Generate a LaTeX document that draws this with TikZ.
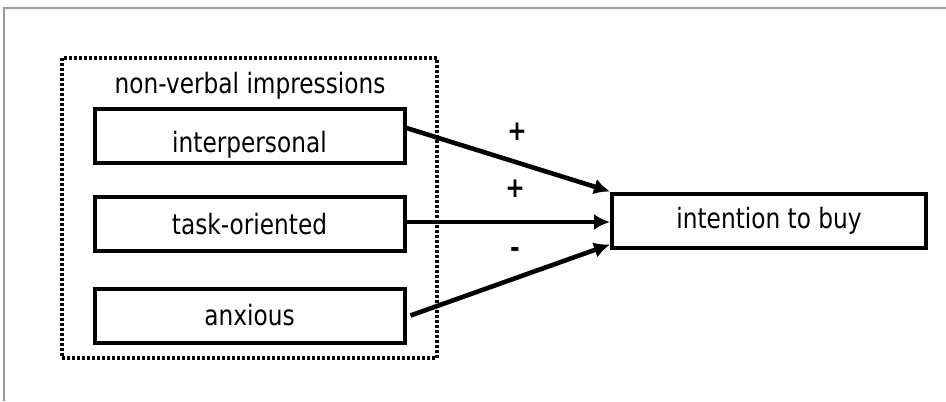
\documentclass[tikz,border=0pt]{standalone}
\usepackage{fontspec}
\setmainfont{DejaVu Sans}[FakeStretch=0.83]
\usetikzlibrary{arrows.meta}

\begin{document}
\begin{tikzpicture}[
  x=0.5pt, y=-0.5pt,
  >=Latex,
  font=\fontsize{14}{16}\selectfont,
  box/.style={draw, line width=2pt, minimum width=155pt, minimum height=27pt, inner sep=0pt},
  link/.style={line width=2.3pt, -{Latex[length=8pt, width=8pt]}},
  sign/.style={font=\fontsize{14}{16}\selectfont\bfseries}
]
\useasboundingbox (0,0) rectangle (946,401);

% page frame (top and left only)
\draw[gray!80, line width=1pt] (946,8) -- (4,8) -- (4,401);

% group of impressions
\node[draw, dash pattern=on 1.5pt off 1pt, line width=2pt,
      minimum width=187.5pt, minimum height=150pt] (group) at (249.5,208) {};
\node (grouptitle) at (250,86) {non-verbal impressions};

\node[box, text height=3.6ex] (inter) at (249.5,136) {interpersonal};
\node[box]                    (task)  at (249.5,224) {task-oriented};
\node[box]                    (anx)   at (249.5,315.5) {anxious};

\node[box, minimum width=157pt] (buy) at (769,220.5) {intention to buy};

% effects on intention
\draw[link] ([yshift=4pt]inter.east) -- ([yshift=14.5pt]buy.west);
\draw[link] ([yshift=1pt]task.east) -- ([yshift=1pt]task.east -| buy.west);
\draw[link] ([xshift=2pt]anx.east) -- ([yshift=-12pt]buy.west);

\node[sign] (s1) at (517,132) {+};
\node[sign] (s2) at (515,189) {+};
\node[sign] (s3) at (515,252) {-};

\end{tikzpicture}
\end{document}
